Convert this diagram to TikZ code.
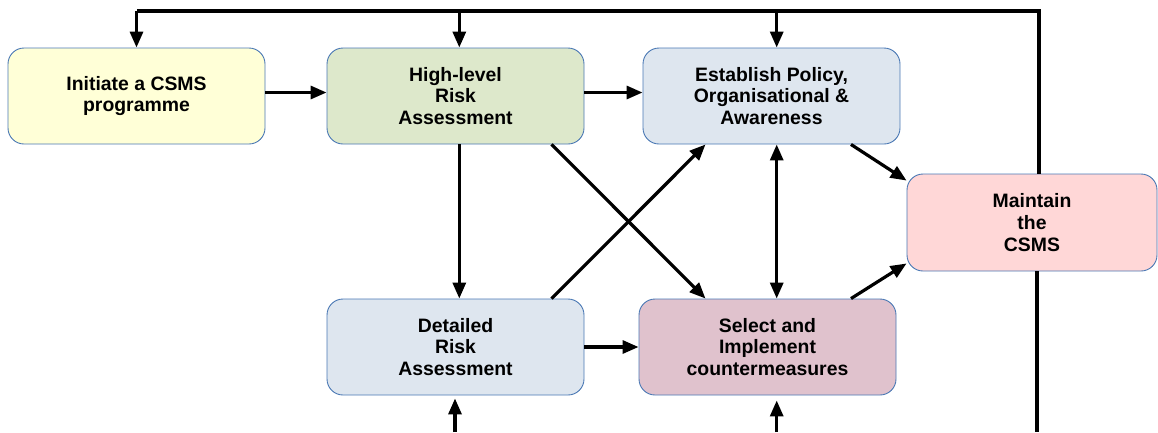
\documentclass[tikz,border=0pt]{standalone}
\usepackage{fontspec}
\setmainfont{Liberation Sans}
\usetikzlibrary{arrows.meta}

\definecolor{boxline}{HTML}{4A78B4}
\definecolor{fillinit}{HTML}{FFFFD7}
\definecolor{fillhl}{HTML}{DDE8CB}
\definecolor{fillblue}{HTML}{DEE6EF}
\definecolor{fillmaint}{HTML}{FFD7D7}
\definecolor{fillsel}{HTML}{E0C2CD}

\tikzset{
  stagebox/.style={draw=boxline, line width=0.9pt, rounded corners=16pt,
    minimum width=257pt, minimum height=96pt, inner sep=0pt, align=center,
    font=\fontsize{19.4}{21.7}\selectfont\bfseries, text=black},
  tip/.tip={Triangle[length=16pt,width=13pt]},
  arr/.style={line width=3.2pt, -tip},
  dblarr/.style={line width=3.2pt, tip-tip},
  plain/.style={line width=3.2pt}
}

\begin{document}
\begin{tikzpicture}[x=1pt, y=-1pt]
\useasboundingbox (0,0) rectangle (1158,432);

% stage boxes
\node[stagebox, fill=fillinit]  (init) at (136.5,96)  {Initiate a CSMS\\programme};
\node[stagebox, fill=fillhl]    (hl)   at (455.5,96)  {High-level\\Risk\\Assessment};
\node[stagebox, fill=fillblue]  (est)  at (771.5,96)  {Establish Policy,\\Organisational \&\\Awareness};
\node[stagebox, fill=fillmaint, minimum width=250pt, minimum height=97pt]
                                (mnt)  at (1032,222.5) {Maintain\\the\\CSMS};
\node[stagebox, fill=fillblue]  (det)  at (455.5,347) {Detailed\\Risk\\Assessment};
\node[stagebox, fill=fillsel]   (sel)  at (767.5,347) {Select and\\Implement\\countermeasures};

% feedback loop along the top
\coordinate (fbtop)  at (1039,11);
\coordinate (fbl)    at (136.5,11);
\coordinate (fbhl)   at (459.3,11);
\coordinate (fbest)  at (776.7,11);
\coordinate (fbbot)  at (1037,432);

\draw[plain] (fbtop |- mnt.north) -- (fbtop) -- (fbl);
\draw[plain] (fbbot |- mnt.south) -- (fbbot);
\draw[arr] (fbl) -- (init.north);
\draw[arr] (fbhl) -- (fbhl |- hl.north);
\draw[arr] (fbest) -- (fbest |- est.north);

% top row flow
\draw[arr] ([yshift=3.5pt]init.east) -- ([yshift=3.5pt]hl.west);
\draw[arr] ([yshift=3.5pt]hl.east) -- ([yshift=3.5pt]est.west);

% high-level assessment down and across
\draw[arr] ([xshift=3.8pt]hl.south) -- ([xshift=3.8pt]hl.south |- det.north);
\draw[arr] ([xshift=96pt]hl.south) -- ([xshift=-62pt]sel.north);
\draw[arr] ([xshift=96pt]det.north) -- ([xshift=-66pt]est.south);

% policy and countermeasures
\draw[dblarr] ([xshift=5.2pt]est.south) -- ([xshift=5.2pt]est.south |- sel.north);
\draw[arr] (det.east) -- (sel.west);

% into maintenance
\draw[arr] ([xshift=79.5pt]est.south) -- ([yshift=-7pt]mnt.north west);
\draw[arr] ([xshift=83.5pt]sel.north) -- ([yshift=8pt]mnt.south west);

% inputs from below
\coordinate (indet) at (455,432);
\coordinate (insel) at (776.7,432);
\draw[arr] (indet) -- ([yshift=-3pt]indet |- det.south);
\draw[arr] (insel) -- ([yshift=-5pt]insel |- sel.south);
\end{tikzpicture}
\end{document}
